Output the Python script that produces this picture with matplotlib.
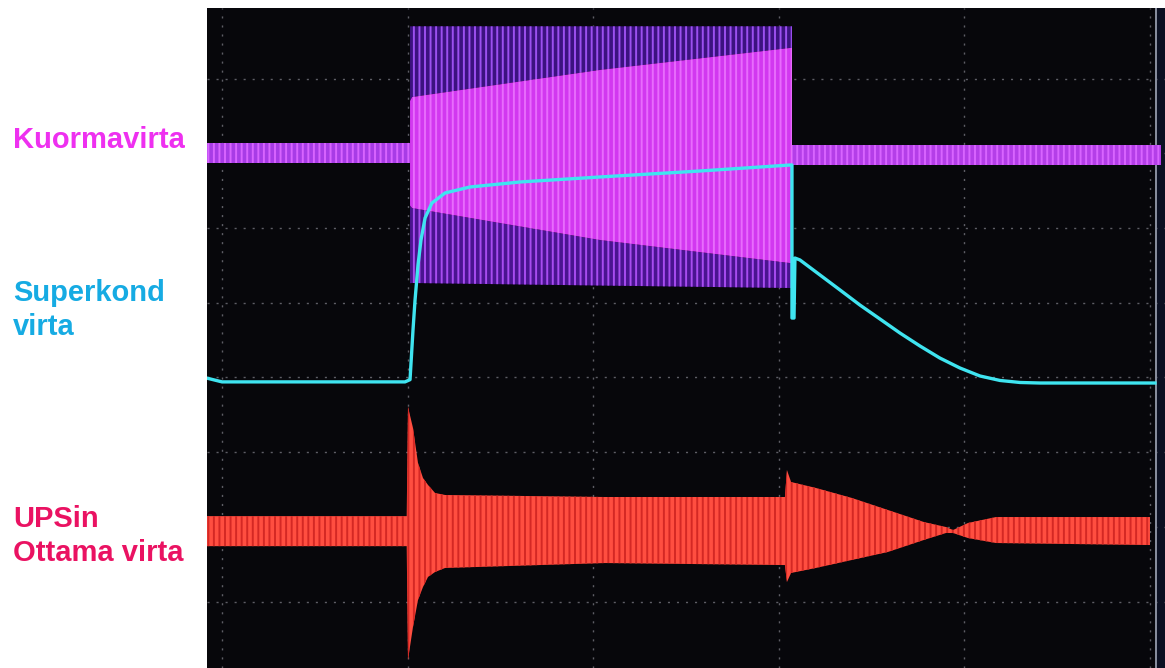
import matplotlib
matplotlib.use("Agg")
import matplotlib.pyplot as plt

plt.rcParams['hatch.linewidth'] = 1.4

# ---- Data (grid divisions; x = time div, y = vertical div) ----
# Kuormavirta (load current) - idle bands before / after the burst
load_pre_x = [-0.081, 1.013]
load_pre_top = [3.14, 3.14]
load_pre_bot = [2.87, 2.87]
load_post_x = [3.071, 5.06]
load_post_top = [3.11, 3.11]
load_post_bot = [2.84, 2.84]
# load burst envelopes
burst_x = [1.013, 1.024, 2.037, 3.060, 3.071]
burst_outer_top = [4.70, 4.70, 4.70, 4.70, 4.70]
burst_inner_top = [3.70, 3.753, 4.116, 4.410, 4.41]
burst_inner_bot = [2.30, 2.267, 1.839, 1.531, 1.53]
burst_outer_bot = [1.26, 1.264, 1.23, 1.197, 1.197]

# Superkond virta (supercapacitor current)
cap_x = [-0.081, 0.0, 0.986, 1.013, 1.029, 1.040, 1.056, 1.072, 1.094, 1.131,
         1.202, 1.336, 1.606, 2.037, 2.575, 3.060, 3.071, 3.071, 3.082, 3.087,
         3.114, 3.222, 3.330, 3.437, 3.545, 3.653, 3.761, 3.868, 3.976, 4.084,
         4.192, 4.300, 4.407, 5.027]
cap_y = [-0.01, -0.06, -0.06, -0.03, 0.635, 1.036, 1.505, 1.839, 2.134, 2.335,
         2.469, 2.549, 2.616, 2.683, 2.763, 2.843, 2.843, 0.795, 0.795, 1.598,
         1.572, 1.371, 1.170, 0.969, 0.782, 0.594, 0.420, 0.259, 0.126, 0.019,
         -0.041, -0.068, -0.075, -0.075]

# UPSin ottama virta (UPS input current) envelopes
ups_x = [-0.081, 0.995, 1.002, 1.029, 1.056, 1.083, 1.110, 1.148, 1.202, 2.064,
         3.033, 3.044, 3.066, 3.200, 3.394, 3.588, 3.782, 3.901, 3.939, 4.019,
         4.170, 5.000]
ups_top = [-1.857, -1.857, -0.395, -0.677, -1.146, -1.347, -1.440, -1.547, -1.574, -1.601,
           -1.601, -1.240, -1.400, -1.480, -1.614, -1.775, -1.936, -2.003, -2.043, -1.949,
           -1.869, -1.869]
ups_bot = [-2.259, -2.259, -3.782, -3.340, -2.979, -2.805, -2.671, -2.605, -2.551, -2.485,
           -2.512, -2.739, -2.618, -2.551, -2.444, -2.337, -2.176, -2.083, -2.083, -2.150,
           -2.217, -2.244]

grid_x = [0, 1, 2, 3, 4, 5]
grid_y = [-3, -2, -1, 0, 1, 2, 3, 4]

labels = [("Kuormavirta", 140, "#ee30f0"),
          ("Superkond\nvirta", 310, "#16abe3"),
          ("UPSin\nOttama virta", 536, "#ea1262")]

# ---- Figure ----
W, H = 1165, 668
fig = plt.figure(figsize=(W / 100, H / 100), dpi=100, facecolor="white")
ax = fig.add_axes([207 / W, 0, 1 - 207 / W, (H - 8) / H])
ax.set_facecolor("#07070b")
ax.set_xlim(-0.081, 5.081)
ax.set_ylim(-3.890, 4.945)
ax.set_xticks([])
ax.set_yticks([])
for s in ax.spines.values():
    s.set_visible(False)

for gx in grid_x:
    ax.axvline(gx, color="#5e5e66", lw=1.0, ls=(0, (1.5, 5)), zorder=1)
for gy in grid_y:
    ax.axhline(gy, color="#5e5e66", lw=1.0, ls=(0, (1.5, 5)), zorder=1)
ax.axvline(5.035, color="#8a90a0", lw=1.4, zorder=1)
ax.axvspan(5.04, 5.081, color="#0b1022", zorder=0.5)

# Load current
ax.fill_between(load_pre_x, load_pre_bot, load_pre_top, facecolor="#a83ce6",
                edgecolor="#d864ff", hatch="|||", lw=0, zorder=2)
ax.fill_between(load_post_x, load_post_bot, load_post_top, facecolor="#b43ee8",
                edgecolor="#d864ff", hatch="|||", lw=0, zorder=2)
ax.fill_between(burst_x, burst_inner_top, burst_outer_top, facecolor="#3c1280",
                edgecolor="#9c50f0", hatch="|||", lw=0, zorder=2)
ax.fill_between(burst_x, burst_outer_bot, burst_inner_bot, facecolor="#4a1490",
                edgecolor="#a84cf0", hatch="|||", lw=0, zorder=2)
ax.fill_between(burst_x, burst_inner_bot, burst_inner_top, facecolor="#d238f0",
                edgecolor="#e86cfc", hatch="|||", lw=0, zorder=2)

# Supercap current
ax.plot(cap_x, cap_y, color="#3fe4f0", lw=2.4, zorder=4, solid_joinstyle="round")

# UPS current
ax.fill_between(ups_x, ups_bot, ups_top, facecolor="#ff4e40",
                edgecolor="#d42824", hatch="|||", lw=0, zorder=3)

for text, py, col in labels:
    fig.text(13 / W, 1 - py / H, text, color=col, fontsize=21, fontweight="bold",
             family="Liberation Sans", ha="left", va="center", linespacing=1.3)

fig.savefig("out.png", dpi=100, facecolor="white")
